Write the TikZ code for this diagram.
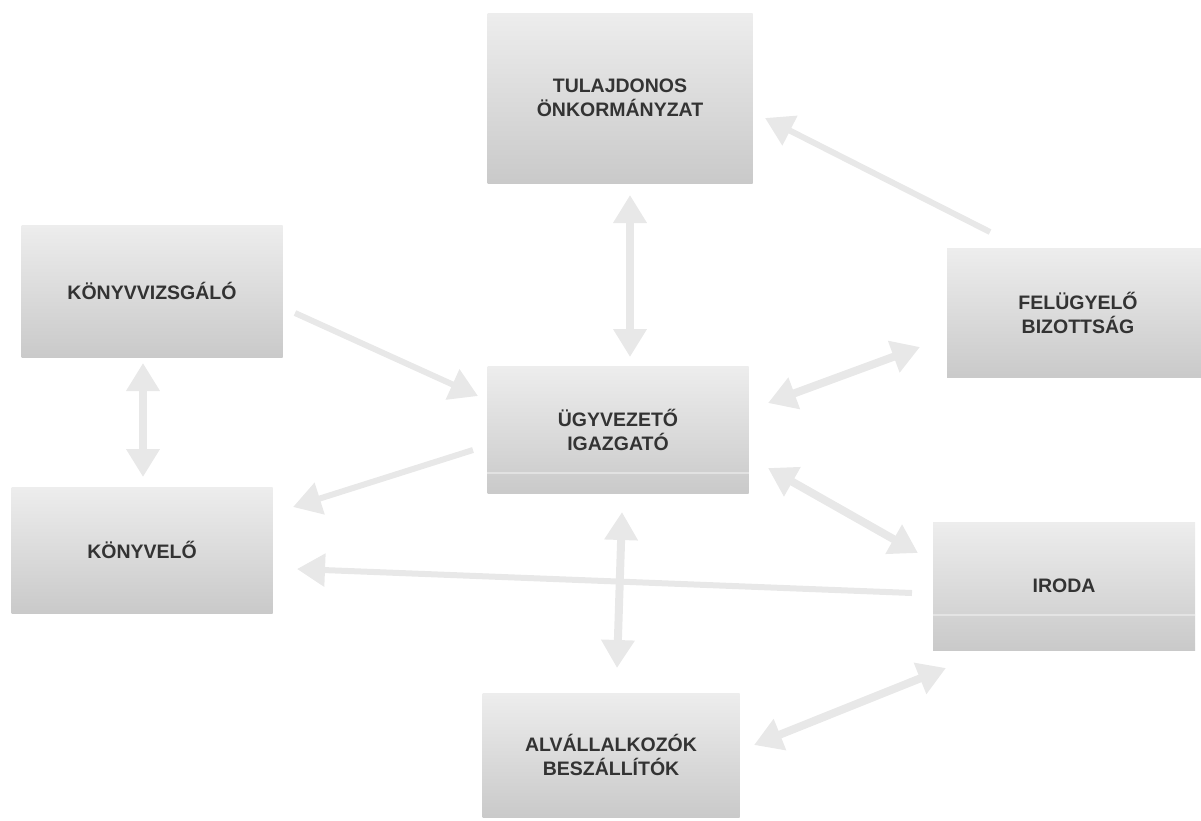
\documentclass[tikz,border=0pt]{standalone}
\usepackage{fontspec}
\setmainfont{Liberation Sans}
\usetikzlibrary{arrows.meta,calc}
\begin{document}
\begin{tikzpicture}[x=1pt,y=-1pt,
  box/.style={rectangle, inner sep=0pt, top color=black!7, bottom color=black!21, draw=none,
    align=center, font=\fontsize{19.5}{24}\selectfont\bfseries, text=black!80},
  band/.style={draw=white, opacity=0.4, line width=2pt},
  head/.tip={Triangle[width=32pt,length=28pt]},
  conn/.style={draw=black!9, line width=8pt, -head},
  conntwo/.style={draw=black!9, line width=8pt, head-head}]
\useasboundingbox (0,0) rectangle (1201,820);
% boxes
\node[box, minimum width=265pt, minimum height=170pt] (tul) at (620,98) {TULAJDONOS\\ÖNKORMÁNYZAT};
\node[box, minimum width=261pt, minimum height=127pt] (ugy) at (618,430) {ÜGYVEZETŐ\\IGAZGATÓ};
\node[box, minimum width=262pt, minimum height=129pt] (fel) at (1078,313) {FELÜGYELŐ\\BIZOTTSÁG};
\node[box, minimum width=261pt, minimum height=132pt] (kv) at (152,291) {KÖNYVVIZSGÁLÓ};
\node[box, minimum width=261pt, minimum height=126pt] (ke) at (142,550) {KÖNYVELŐ};
\node[box, minimum width=262pt, minimum height=128pt] (iro) at (1064,586) {IRODA};
\node[box, minimum width=257pt, minimum height=124pt] (alv) at (611,755) {ALVÁLLALKOZÓK\\BESZÁLLÍTÓK};
% light bands near the bottom of two boxes
\draw[band] ($(ugy.south west)+(0,-21)$) -- ($(ugy.south east)+(0,-21)$);
\draw[band] ($(iro.south west)+(0,-35)$) -- ($(iro.south east)+(0,-35)$);
% arrow end points
\coordinate (a1) at (630,195); \coordinate (b1) at (630,357);
\coordinate (a2) at (990,232); \coordinate (b2) at (765,118);
\coordinate (a3) at (295,313); \coordinate (b3) at (478,396);
\coordinate (a4) at (768,403); \coordinate (b4) at (920,347);
\coordinate (a5) at (143,363); \coordinate (b5) at (143,477);
\coordinate (a6) at (473,450); \coordinate (b6) at (293,507);
\coordinate (a7) at (912,593); \coordinate (b7) at (297,569);
\coordinate (a8) at (768,468); \coordinate (b8) at (918,553);
\coordinate (a9) at (622,512); \coordinate (b9) at (617,668);
\coordinate (a10) at (754,745); \coordinate (b10) at (946,668);
% arrows
\draw[conntwo] (a1) -- (b1);
\draw[conn, line width=6pt] (a2) -- (b2);
\draw[conn, line width=6pt] (a3) -- (b3);
\draw[conntwo] (a4) -- (b4);
\draw[conntwo] (a5) -- (b5);
\draw[conn, line width=6pt] (a6) -- (b6);
\draw[conn, line width=6pt] (a7) -- (b7);
\draw[conntwo] (a8) -- (b8);
\draw[conntwo] (a9) -- (b9);
\draw[conntwo] (a10) -- (b10);
\end{tikzpicture}
\end{document}
